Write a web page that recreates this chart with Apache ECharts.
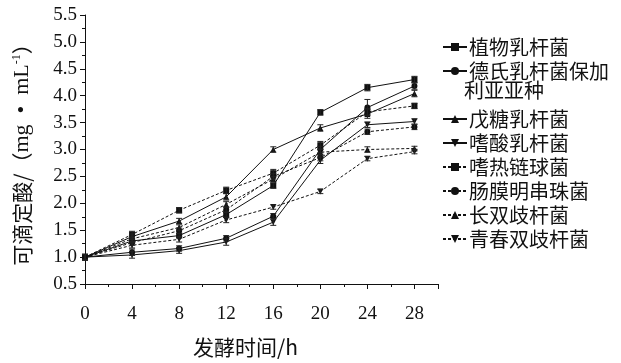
<!DOCTYPE html>
<html><head><meta charset="utf-8">
<script src="https://cdn.jsdelivr.net/npm/echarts@6/dist/echarts.min.js"></script>
<style>html,body{margin:0;padding:0;background:#fff;}#c{width:621px;height:363px;}</style>
</head><body><div id="c"></div>
<script>
const hours = [0, 4, 8, 12, 16, 20, 24, 28];
const names = ['植物乳杆菌', '德氏乳杆菌保加利亚亚种', '戊糖乳杆菌', '嗜酸乳杆菌', '嗜热链球菌', '肠膜明串珠菌', '长双歧杆菌', '青春双歧杆菌'];
const plantarum   = [1.00, 1.30, 1.40, 1.79, 2.33, 3.69, 4.15, 4.30];
const bulgaricus  = [1.00, 1.09, 1.16, 1.35, 1.76, 3.00, 3.78, 4.18];
const pentosus    = [1.00, 1.38, 1.67, 2.12, 3.00, 3.40, 3.66, 4.04];
const acidophilus = [1.00, 1.04, 1.12, 1.28, 1.65, 2.80, 3.46, 3.52];
const thermophilus= [1.00, 1.42, 1.87, 2.24, 2.56, 3.08, 3.70, 3.81];
const mesenteroides=[1.00, 1.27, 1.49, 1.88, 2.50, 2.85, 3.33, 3.42];
const longum      = [1.00, 1.34, 1.55, 1.98, 2.45, 2.95, 3.00, 3.02];
const adolescentis= [1.00, 1.22, 1.33, 1.69, 1.93, 2.22, 2.83, 2.96];
const errPlantarum   = [0.05, 0.04, 0.04, 0.05, 0.05, 0.05, 0.06, 0.06];
const errBulgaricus  = [0.05, 0.06, 0.05, 0.05, 0.05, 0.06, 0.15, 0.06];
const errPentosus    = [0.05, 0.05, 0.05, 0.06, 0.05, 0.06, 0.08, 0.06];
const errAcidophilus = [0.05, 0.06, 0.05, 0.06, 0.06, 0.06, 0.05, 0.05];
const errThermophilus= [0.05, 0.06, 0.05, 0.06, 0.07, 0.07, 0.06, 0.05];
const errMesenteroides=[0.05, 0.05, 0.05, 0.05, 0.05, 0.06, 0.05, 0.05];
const errLongum      = [0.05, 0.05, 0.05, 0.05, 0.05, 0.05, 0.05, 0.04];
const errAdolescentis= [0.05, 0.05, 0.05, 0.05, 0.04, 0.04, 0.04, 0.04];
const yTicks = [0.5, 5.5, 0.5];   // min, max, step
const xTicks = [0, 30, 4];

const values = [plantarum, bulgaricus, pentosus, acidophilus, thermophilus, mesenteroides, longum, adolescentis];
const errors = [errPlantarum, errBulgaricus, errPentosus, errAcidophilus, errThermophilus, errMesenteroides, errLongum, errAdolescentis];
const symbols = ['rect', 'circle', 'triangle', 'triangle', 'rect', 'circle', 'triangle', 'triangle'];
const rotates = [0, 0, 0, 180, 0, 0, 0, 180];
const dashed  = [false, false, false, false, true, true, true, true];

const INK = '#111';
const serif = '"Liberation Serif", "Times New Roman", serif';
const cjk = '"Noto Sans CJK SC", sans-serif';

const series = [];
values.forEach((vals, i) => {
  series.push({
    name: names[i], type: 'line',
    data: hours.map((h, k) => [h, vals[k]]),
    symbol: symbols[i], symbolRotate: rotates[i], symbolSize: 6,
    showAllSymbol: true,
    itemStyle: { color: INK },
    lineStyle: { color: INK, width: 1, type: dashed[i] ? [3, 2] : 'solid' },
    z: 3, animation: false
  });
  series.push({
    type: 'custom', name: names[i] + '-err', silent: true, z: 4,
    data: hours.map((h, k) => [h, vals[k], errors[i][k]]),
    renderItem: function (params, api) {
      const x = api.value(0), y = api.value(1), e = api.value(2);
      const top = api.coord([x, y + e]);
      const bot = api.coord([x, y - e]);
      const hw = 3;
      const st = { stroke: '#222', lineWidth: 1 };
      return { type: 'group', children: [
        { type: 'line', shape: { x1: top[0], y1: top[1], x2: bot[0], y2: bot[1] }, style: st },
        { type: 'line', shape: { x1: top[0] - hw, y1: top[1], x2: top[0] + hw, y2: top[1] }, style: st },
        { type: 'line', shape: { x1: bot[0] - hw, y1: bot[1], x2: bot[0] + hw, y2: bot[1] }, style: st }
      ]};
    },
    animation: false
  });
});

const legendCommon = {
  orient: 'vertical', left: 437, itemWidth: 24, itemHeight: 10, itemGap: 0,
  textStyle: { fontFamily: cjk, fontSize: 20, color: INK, lineHeight: 24, padding: [0, 0, 0, -3] },
  itemStyle: { color: INK }
};

const option = {
  animation: false,
  backgroundColor: '#fff',
  grid: { left: 85, right: 183, top: 15, bottom: 76 },
  xAxis: {
    type: 'value', min: xTicks[0], max: xTicks[1], interval: xTicks[2],
    axisLine: { lineStyle: { color: INK, width: 1 } },
    axisTick: { show: true, length: 5, lineStyle: { color: INK } },
    minorTick: { show: true, splitNumber: 2, length: 3, lineStyle: { color: INK } },
    splitLine: { show: false },
    axisLabel: { fontFamily: serif, fontSize: 19, color: INK, margin: 21,
      formatter: v => (v > 28 ? '' : String(v)) },
    name: '发酵时间/h', nameLocation: 'middle', nameGap: 53,
    nameTextStyle: { fontFamily: cjk, fontSize: 21, color: INK, padding: [0, 32, 0, 0] }
  },
  yAxis: {
    type: 'value', min: yTicks[0], max: yTicks[1], interval: yTicks[2],
    axisLine: { show: true, lineStyle: { color: INK, width: 1 } },
    axisTick: { show: true, length: 5, lineStyle: { color: INK } },
    minorTick: { show: true, splitNumber: 2, length: 3, lineStyle: { color: INK } },
    splitLine: { show: false },
    axisLabel: { fontFamily: serif, fontSize: 19, color: INK, margin: 8,
      formatter: v => v.toFixed(1) },
    name: '{c|可滴定酸/（}{l|mg\u2002•\u2002mL}{sup|-1}{c|）}', nameLocation: 'middle', nameGap: 52, nameRotate: 90,
    nameTextStyle: { fontFamily: cjk, fontSize: 21, color: INK,
      rich: {
        c: { fontFamily: cjk, fontSize: 21, color: INK },
        l: { fontFamily: serif, fontSize: 22, color: INK },
        sup: { fontFamily: serif, fontSize: 12, color: INK, verticalAlign: 'bottom', padding: [0, 0, 10, 0] }
      } }
  },
  legend: [
    Object.assign({}, legendCommon, { top: 30, data: names.slice(0, 2),
      formatter: n => (n === names[1] ? '德氏乳杆菌保加' : n) }),
    Object.assign({}, legendCommon, { top: 102, data: names.slice(2) })
  ],
  graphic: [{ type: 'text', left: 464, top: 80,
    style: { text: '利亚亚种', font: '20px ' + cjk, fill: INK } }],
  series: series
};

const chart = echarts.init(document.getElementById('c'), null, { renderer: 'canvas' });
chart.setOption(option);
</script></body></html>
